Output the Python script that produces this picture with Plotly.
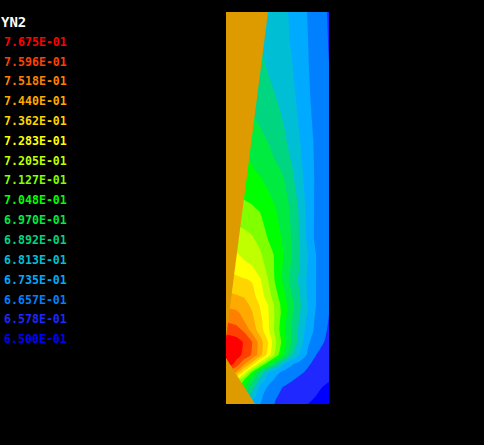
import plotly.graph_objects as go

W, H = 484, 445
x_px = [226, 236, 244, 252, 260, 268, 276, 284, 292, 300, 308, 316, 329]
y_px = [12, 40, 72, 105, 140, 173, 207, 240, 255, 270, 280, 297, 305, 313, 320, 330, 342, 355, 364, 372, 380, 388, 396, 404]

yn2_y012 = [.7010, .6986, .6970, .6947, .6916, .6888, .6861, .6829, .6798, .6763, .6731, .6700, .6649]
yn2_y040 = [.6970, .6955, .6939, .6916, .6892, .6872, .6849, .6829, .6806, .6770, .6735, .6704, .6652]
yn2_y072 = [.7002, .6978, .6959, .6935, .6912, .6890, .6865, .6841, .6818, .6782, .6739, .6708, .6658]
yn2_y105 = [.7017, .7002, .6986, .6959, .6935, .6919, .6900, .6872, .6837, .6794, .6747, .6712, .6665]
yn2_y140 = [.7072, .7049, .7033, .7010, .6990, .6966, .6927, .6904, .6861, .6814, .6763, .6720, .6672]
yn2_y173 = [.7119, .7104, .7080, .7061, .7041, .7014, .6990, .6963, .6900, .6837, .6774, .6723, .6680]
yn2_y207 = [.7159, .7151, .7139, .7131, .7115, .7080, .7045, .7002, .6951, .6872, .6782, .6720, .6680]
yn2_y240 = [.7260, .7249, .7237, .7217, .7182, .7127, .7084, .7033, .6963, .6884, .6794, .6716, .6672]
yn2_y255 = [.7315, .7292, .7268, .7241, .7217, .7162, .7112, .7041, .6970, .6892, .6814, .6735, .6672]
yn2_y270 = [.7362, .7339, .7315, .7300, .7253, .7186, .7108, .7029, .6951, .6884, .6806, .6735, .6669]
yn2_y280 = [.7402, .7382, .7370, .7355, .7292, .7206, .7108, .7025, .6943, .6872, .6798, .6735, .6669]
yn2_y297 = [.7456, .7449, .7437, .7394, .7327, .7245, .7151, .7068, .6970, .6892, .6802, .6735, .6665]
yn2_y305 = [.7504, .7488, .7472, .7421, .7355, .7284, .7174, .7084, .6994, .6900, .6814, .6735, .6665]
yn2_y313 = [.7543, .7535, .7496, .7445, .7370, .7292, .7182, .7088, .6982, .6892, .6806, .6727, .6657]
yn2_y320 = [.7582, .7562, .7515, .7460, .7386, .7296, .7178, .7076, .6970, .6880, .6790, .6720, .6653]
yn2_y330 = [.7645, .7629, .7582, .7488, .7402, .7300, .7174, .7061, .6959, .6865, .6774, .6716, .6645]
yn2_y342 = [.7723, .7707, .7668, .7598, .7480, .7362, .7206, .7080, .6959, .6853, .6747, .6696, .6633]
yn2_y355 = [.7747, .7715, .7652, .7586, .7472, .7331, .7166, .7033, .6892, .6802, .6720, .6657, .6618]
yn2_y364 = [.7754, .7645, .7535, .7402, .7229, .7072, .6947, .6814, .6743, .6704, .6665, .6637, .6602]
yn2_y372 = [.7598, .7519, .7339, .7127, .6955, .6829, .6759, .6716, .6696, .6669, .6645, .6618, .6586]
yn2_y380 = [.7441, .7284, .7127, .6994, .6868, .6774, .6716, .6684, .6661, .6637, .6614, .6598, .6581]
yn2_y388 = [.7284, .7166, .7049, .6916, .6790, .6720, .6680, .6649, .6629, .6614, .6598, .6586, .6567]
yn2_y396 = [.7206, .7088, .6947, .6861, .6751, .6704, .6661, .6641, .6622, .6606, .6590, .6578, .6543]
yn2_y404 = [.7127, .7010, .6892, .6790, .6739, .6684, .6649, .6629, .6614, .6598, .6578, .6563, .6524]
z = [yn2_y012, yn2_y040, yn2_y072, yn2_y105, yn2_y140, yn2_y173, yn2_y207, yn2_y240,
     yn2_y255, yn2_y270, yn2_y280, yn2_y297, yn2_y305, yn2_y313, yn2_y320, yn2_y330,
     yn2_y342, yn2_y355, yn2_y364, yn2_y372, yn2_y380, yn2_y388, yn2_y396, yn2_y404]

wedge_x = [226, 268, 226, 226, 255, 226, 226]
wedge_y = [12, 12, 338, 358, 404, 404, 12]

legend_labels = ["7.675E-01", "7.596E-01", "7.518E-01", "7.440E-01", "7.362E-01", "7.283E-01",
                 "7.205E-01", "7.127E-01", "7.048E-01", "6.970E-01", "6.892E-01", "6.813E-01",
                 "6.735E-01", "6.657E-01", "6.578E-01", "6.500E-01"]
legend_y = [42, 62, 81, 101, 121, 141, 161, 180, 200, 220, 240, 260, 280, 300, 319, 339]
legend_colors = ["#ff0000", "#ff4000", "#ff8000", "#ffaa00", "#ffd500", "#ffff00",
                 "#bfff00", "#80ff00", "#00ff00", "#00eb40", "#00d580", "#00bfd5",
                 "#00aaff", "#0080ff", "#1e28ff", "#0000ff"]

n = len(legend_colors)
colorscale = [[i / (n - 1), c] for i, c in enumerate(reversed(legend_colors))]

fig = go.Figure()
fig.add_trace(go.Contour(
    x=x_px, y=y_px, z=z, colorscale=colorscale, showscale=False, hoverinfo="skip",
    contours=dict(coloring="fill", showlines=False, start=0.6578, end=0.7675, size=0.00783),
    line=dict(width=0, smoothing=0.5),
))
fig.add_trace(go.Scatter(
    x=wedge_x, y=wedge_y, mode="lines", fill="toself", fillcolor="#de9b00",
    line=dict(width=0, color="#de9b00"), hoverinfo="skip", showlegend=False,
))

font_family = "DejaVu Sans Mono"
ann = [dict(text="YN2", x=-1 / W, y=1 - 22 / H, xref="paper", yref="paper", xanchor="left", yanchor="middle",
            showarrow=False, font=dict(family=font_family, size=14, color="#ffffff", weight="bold"))]
for label, py, c in zip(legend_labels, legend_y, legend_colors):
    ann.append(dict(text=label, x=2 / W, y=1 - py / H, xref="paper", yref="paper", xanchor="left", yanchor="middle",
                    showarrow=False, font=dict(family=font_family, size=11.6, color=c, weight="bold")))

fig.update_layout(
    width=W, height=H, margin=dict(l=0, r=0, t=0, b=0), autosize=False,
    paper_bgcolor="#000000", plot_bgcolor="#000000", showlegend=False, annotations=ann,
    xaxis=dict(domain=[226 / W, 329 / W], range=[226, 329], visible=False, fixedrange=True),
    yaxis=dict(domain=[1 - 404 / H, 1 - 12 / H], range=[404, 12], visible=False, fixedrange=True),
)
fig.write_html("out.html", config={"displayModeBar": False},
               post_script="document.body.style.margin='0';document.body.style.background='#000';")
